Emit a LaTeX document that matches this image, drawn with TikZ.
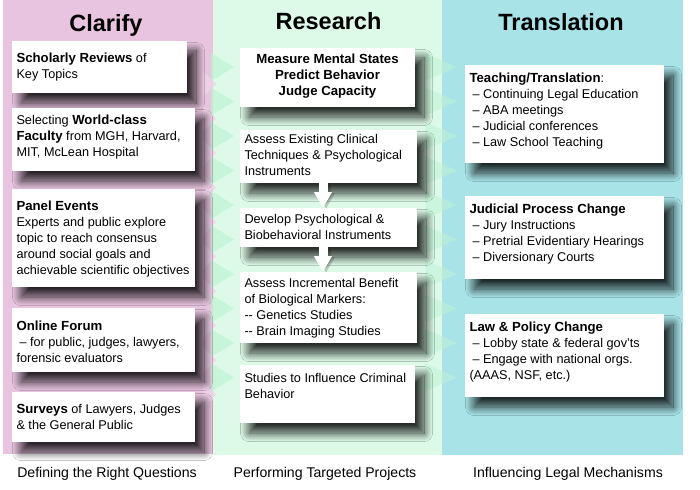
\documentclass[tikz,border=0pt]{standalone}
\usepackage{fontspec}
\setmainfont{Liberation Sans}
\usetikzlibrary{shadows.blur,arrows.meta}
\definecolor{pinkbg}{HTML}{E8C4E0}
\definecolor{pinktri}{HTML}{F0D2EB}
\definecolor{mintbg}{HTML}{DDFAE8}
\definecolor{cyanbg}{HTML}{A7E3E7}
\definecolor{tri}{HTML}{BDF3D4}
\newcommand{\hb}[1]{{\fontsize{13.2}{16}\selectfont\bfseries #1}}
\newcommand{\cardtxt}[4]{\parbox[t][#2pt][t]{#1pt}{\vspace*{\dimexpr#3pt-10pt\relax}\raggedright\rule{0pt}{10pt}#4}}
\tikzset{
  card/.style={fill=white, anchor=north west, inner xsep=4.5pt, inner ysep=0pt, outer sep=0pt,
    blur shadow={shadow xshift=9pt, shadow yshift=-10pt, shadow blur radius=8.5pt, shadow opacity=82, shadow blur steps=20},
    font=\fontsize{12.7}{16}\selectfont},
  coltitle/.style={font=\fontsize{23.5}{28}\selectfont\bfseries, anchor=base, inner sep=0pt},
  colcaption/.style={font=\fontsize{14.1}{17}\selectfont, anchor=base, inner sep=0pt},
  blockarrow/.style={draw=white, line width=9pt, -{Triangle[width=17pt,length=16pt]}},
  arrowshade/.style={draw=black, opacity=0.18, line width=9pt, -{Triangle[width=17pt,length=16pt]}},
}
\begin{document}
\begin{tikzpicture}[x=1pt,y=-1pt]
\useasboundingbox (0,0) rectangle (700,489);
\fill[white] (0,0) rectangle (700,489);
% column backgrounds
\fill[pinkbg] (3,0) rectangle (213,454);
\fill[mintbg] (213,0) rectangle (442,455);
\fill[cyanbg] (442,0) rectangle (683,455);
% chevrons
\foreach \k in {0,...,9}{
  \fill[pinktri, opacity=0.8] (203,84+34.5*\k-13) -- (216,84+34.5*\k) -- (203,84+34.5*\k+13) -- cycle;
  \fill[tri, opacity=0.7] (211,67+34.5*\k-14) -- (234,67+34.5*\k) -- (211,67+34.5*\k+14) -- cycle;
  \fill[tri, opacity=0.55] (425,67+34.5*\k-14) -- (457,67+34.5*\k) -- (425,67+34.5*\k+14) -- cycle;
}
% titles
\node[coltitle] (tC) at (106,31.5) {Clarify};
\node[coltitle] (tR) at (328.5,29.5) {Research};
\node[coltitle] (tT) at (561,30.5) {Translation};
% left column
\node[card] (L1) at (12,41) {\cardtxt{166}{52}{22}{\hb{Scholarly Reviews} of\\Key Topics}};
\node[card] (L2) at (12,108) {\cardtxt{174}{63}{16.7}{Selecting \hb{World-class}\\\hb{Faculty} from MGH, Harvard,\\MIT, McLean Hospital}};
\node[card] (L3) at (12,189) {\cardtxt{174}{98}{21}{\hb{Panel Events}\\Experts and public explore\\topic to reach consensus\\around social goals and\\achievable scientific objectives}};
\node[card] (L4) at (12,308) {\cardtxt{174}{64}{22.5}{\hb{Online Forum}\\\hspace*{3pt}– for public, judges, lawyers,\\forensic evaluators}};
\node[card] (L5) at (12,392) {\cardtxt{174}{50}{21.6}{\hb{Surveys} of Lawyers, Judges\\\& the General Public}};
% middle column
\node[card] (M1) at (240,48) {\cardtxt{166}{59}{16}{\centering\hb{Measure Mental States}\\\hb{Predict Behavior}\\\hb{Judge Capacity}}};
\node[card] (M2) at (240,130) {\cardtxt{168}{53}{14}{Assess Existing Clinical\\Techniques \& Psychological\\Instruments}};
\node[card] (M3) at (240,208) {\cardtxt{168}{39}{15}{Develop Psychological \&\\Biobehavioral Instruments}};
\node[card] (M4) at (240,272) {\cardtxt{168}{71}{15.6}{Assess Incremental Benefit\\of Biological Markers:\\-{}- Genetics Studies\\-{}- Brain Imaging Studies}};
\node[card] (M5) at (240,365) {\cardtxt{166}{58}{17.3}{Studies to Influence Criminal\\Behavior}};
% right column
\node[card] (R1) at (465,65) {\cardtxt{190}{98}{17.7}{\hb{Teaching/Translation}:\\\hspace*{3pt}– Continuing Legal Education\\\hspace*{3pt}– ABA meetings\\\hspace*{3pt}– Judicial conferences\\\hspace*{3pt}– Law School Teaching}};
\node[card] (R2) at (465,196) {\cardtxt{190}{83}{17.6}{\hb{Judicial Process Change}\\\hspace*{3pt}– Jury Instructions\\\hspace*{3pt}– Pretrial Evidentiary Hearings\\\hspace*{3pt}– Diversionary Courts}};
\node[card] (R3) at (465,314) {\cardtxt{190}{83}{17.7}{\hb{Law \& Policy Change}\\\hspace*{3pt}– Lobby state \& federal gov’ts\\\hspace*{3pt}– Engage with national orgs.\\(AAAS, NSF, etc.)}};
% arrows
\draw[arrowshade] ([xshift=-2.5pt,yshift=-2pt]M2.south) -- ([xshift=-2.5pt,yshift=-1pt]M3.north);
\draw[blockarrow] ([xshift=-5.5pt]M2.south) -- ([xshift=-5.5pt]M3.north);
\draw[arrowshade] ([xshift=-2.5pt,yshift=-2pt]M3.south) -- ([xshift=-2.5pt,yshift=-1pt]M4.north);
\draw[blockarrow] ([xshift=-5.5pt]M3.south) -- ([xshift=-5.5pt]M4.north);
% captions
\node[colcaption] (cC) at (107,477) {Defining the Right Questions};
\node[colcaption] (cR) at (325,477) {Performing Targeted Projects};
\node[colcaption] (cT) at (568,477) {Influencing Legal Mechanisms};
\end{tikzpicture}
\end{document}
